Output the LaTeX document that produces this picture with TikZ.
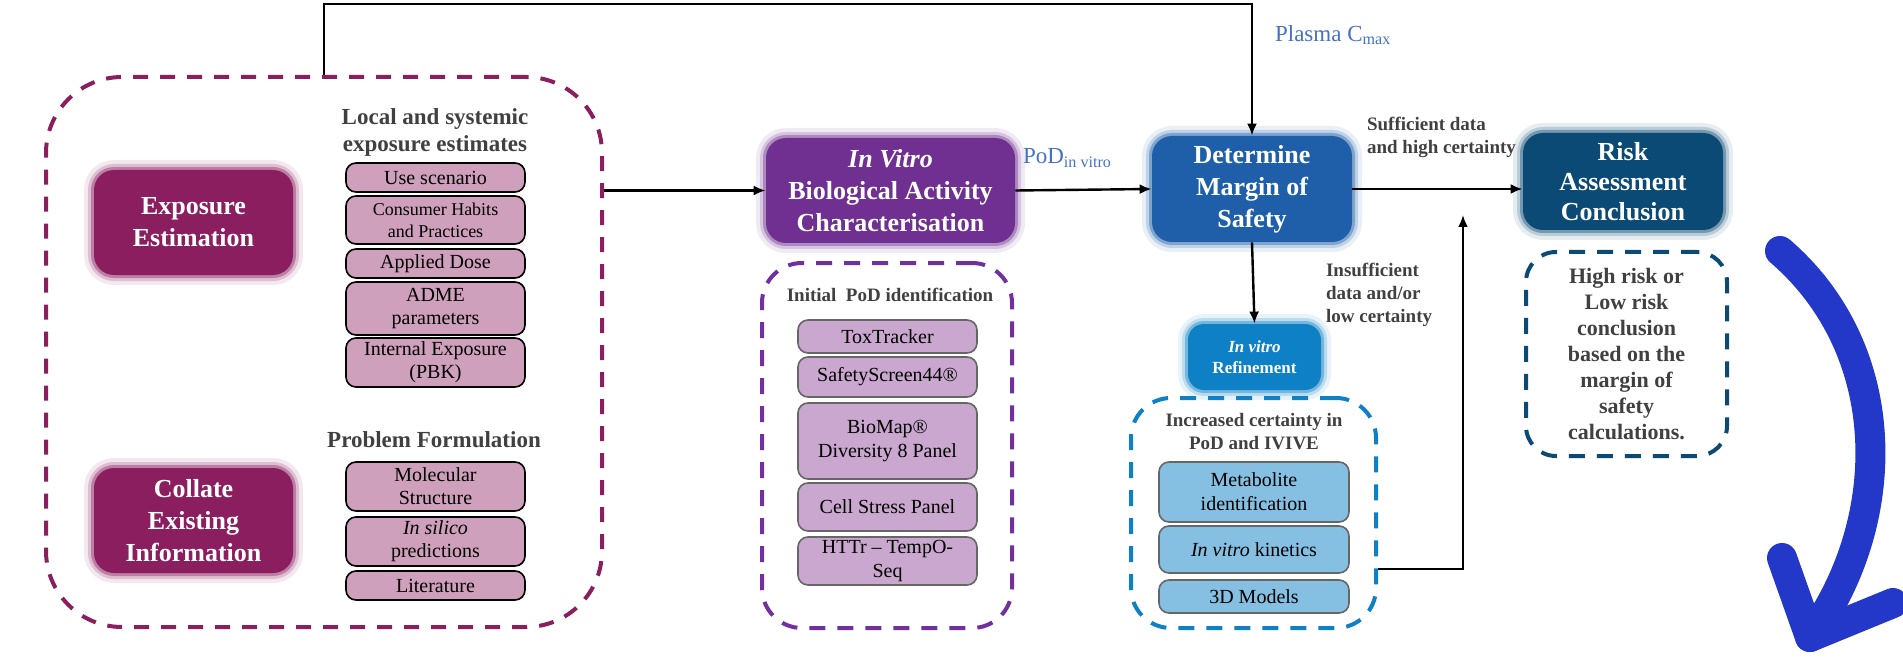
\documentclass[tikz,border=0pt]{standalone}
\usepackage{fontspec}
\setmainfont{Liberation Serif}
\usetikzlibrary{arrows.meta, positioning}

\definecolor{expred}{RGB}{139,30,94}
\definecolor{vitropurple}{RGB}{112,48,145}
\definecolor{podpurple}{RGB}{112,48,160}
\definecolor{mosblue}{RGB}{31,95,170}
\definecolor{refblue}{RGB}{14,128,198}
\definecolor{riskblue}{RGB}{10,74,117}
\definecolor{pinkfill}{RGB}{207,160,188}
\definecolor{lilacfill}{RGB}{201,167,206}
\definecolor{skyfill}{RGB}{133,192,226}
\definecolor{labelblue}{RGB}{68,114,196}
\definecolor{hdrgray}{RGB}{64,64,64}
\definecolor{bigblue}{RGB}{35,55,200}

\begin{document}
\begin{tikzpicture}[x=0.5pt, y=-0.5pt,
    stagebox/.style={rounded corners=10pt, fill=#1, text=white, align=center,
        font=\bfseries\fontsize{13}{16}\selectfont,
        preaction={draw=#1!50, draw opacity=0.2, line width=10pt},
        preaction={draw=#1!70, draw opacity=0.3, line width=6pt},
        preaction={draw=#1, draw opacity=0.4, line width=3pt}},
    groupframe/.style={draw=#1, dash pattern=on 8pt off 6pt, line width=2pt, rounded corners=20pt},
    listbox/.style={draw, rounded corners=5pt, align=center, inner sep=1pt, line width=0.8pt},
    pinkitem/.style={listbox, fill=pinkfill, minimum width=89.5pt, font=\fontsize{10}{11.5}\selectfont},
    lilacitem/.style={listbox, draw=black!60, fill=lilacfill, minimum width=89.5pt, font=\fontsize{10}{12}\selectfont},
    skyitem/.style={listbox, draw=black!60, fill=skyfill, minimum width=95pt, font=\fontsize{10}{12}\selectfont},
    hdr/.style={text=hdrgray, align=center, font=\bfseries\fontsize{9.5}{11.5}\selectfont},
    sidenote/.style={text=hdrgray, align=left, anchor=west, font=\bfseries\fontsize{9.5}{11.5}\selectfont},
    plasma/.style={text=labelblue, anchor=west, font=\fontsize{11.5}{13}\selectfont},
    flow/.style={line width=1.2pt, -{Latex[length=6pt, width=5pt]}}]
    \useasboundingbox (0,0) rectangle (1903,658);

    % Exposure and existing information
    \node[groupframe=expred, rounded corners=38pt, dash pattern=on 7.5pt off 6pt,
          minimum width=278pt, minimum height=275pt] (expframe) at (324,352) {};
    \node[stagebox=expred, minimum width=99.5pt, minimum height=52.5pt] (expest) at (193.5,222.5) {Exposure\\Estimation};
    \node[stagebox=expred, minimum width=99.5pt, minimum height=52.5pt] (collate) at (193.5,520.5) {Collate\\Existing\\Information};

    \node[hdr, font=\bfseries\fontsize{11.5}{13.5}\selectfont] (localhdr) at (435,132) {Local and systemic\\exposure estimates};
    \node[pinkitem, minimum height=14.5pt] (usescn) at (435.5,177.5) {Use scenario};
    \node[pinkitem, minimum height=24pt, font=\fontsize{9}{11}\selectfont] (habits) at (435.5,220) {Consumer Habits\\and Practices};
    \node[pinkitem, minimum height=14.5pt] (dose) at (435.5,263.5) {Applied Dose};
    \node[pinkitem, minimum height=26.5pt] (adme) at (435.5,308.5) {ADME\\parameters};
    \node[pinkitem, minimum height=24.5pt] (pbk) at (435.5,362.5) {Internal Exposure\\(PBK)};

    \node[hdr, font=\bfseries\fontsize{11.5}{13.5}\selectfont] (probhdr) at (434,440) {Problem Formulation};
    \node[pinkitem, minimum height=24.5pt] (molec) at (435.5,486.5) {Molecular\\Structure};
    \node[pinkitem, minimum height=24.5pt] (silico) at (435.5,541.5) {\textit{In silico}\\predictions};
    \node[pinkitem, minimum height=14.5pt] (lit) at (435.5,585.5) {Literature};

    % In vitro activity
    \node[stagebox=vitropurple, minimum width=124.5pt, minimum height=52.5pt] (vitro) at (890.5,190.5) {\textit{In Vitro}\\Biological Activity\\Characterisation};
    \node[groupframe=podpurple, minimum width=125pt, minimum height=182.5pt] (podframe) at (887,445.5) {};
    \node[hdr] (podhdr) at (890,295) {Initial\ \ PoD identification};
    \node[lilacitem, minimum height=16.5pt] (tox) at (887.5,336.5) {ToxTracker};
    \node[lilacitem, minimum height=20pt] (safety) at (887.5,377) {SafetyScreen44®};
    \node[lilacitem, minimum height=38pt] (biomap) at (887.5,441) {BioMap®\\Diversity 8 Panel};
    \node[lilacitem, minimum height=24pt] (stress) at (887.5,507) {Cell Stress Panel};
    \node[lilacitem, minimum height=24pt] (httr) at (887.5,561) {HTTr -- TempO-\\Seq};

    % Margin of safety and refinement
    \node[stagebox=mosblue, minimum width=100pt, minimum height=53pt] (mos) at (1252,189) {Determine\\Margin of\\Safety};
    \node[stagebox=refblue, rounded corners=8pt, minimum width=66.5pt, minimum height=33pt,
          font=\bfseries\fontsize{8.5}{10.5}\selectfont] (refine) at (1254.5,357) {\textit{In vitro}\\Refinement};
    \node[groupframe=refblue, minimum width=122.5pt, minimum height=115pt] (refframe) at (1253.5,513) {};
    \node[hdr] (refhdr) at (1254,432) {Increased certainty in\\PoD and IVIVE};
    \node[skyitem, minimum height=30pt] (metab) at (1254,492) {Metabolite\\identification};
    \node[skyitem, minimum height=23.5pt] (kinet) at (1254,549.5) {\textit{In vitro} kinetics};
    \node[skyitem, minimum height=16.5pt] (models) at (1254,596.5) {3D Models};

    % Conclusion
    \node[stagebox=riskblue, minimum width=100pt, minimum height=48.5pt,
          font=\bfseries\fontsize{13}{15}\selectfont] (risk) at (1623,181.5) {Risk\\Assessment\\Conclusion};
    \node[groupframe=riskblue, rounded corners=15pt, minimum width=100.5pt, minimum height=102pt,
          hdr, font=\bfseries\fontsize{11}{13}\selectfont] (concl) at (1626.5,354)
          {High risk or\\Low risk\\conclusion\\based on the\\margin of\\safety\\calculations.};

    % Labels
    \node[plasma] (plasmalbl) at (1268,35) {Plasma C\textsubscript{max}};
    \node[plasma] (podlbl) at (1016,158) {PoD\textsubscript{in vitro}};
    \node[sidenote] (suff) at (1360,137) {Sufficient data\\and high certainty};
    \node[sidenote] (insuff) at (1319,295) {Insufficient\\data and/or\\low certainty};

    % Connectors
    \coordinate (backtip) at (1463,215);
    \draw[flow] (expframe.north) -- ++(0,-71) -| (mos.north);
    \draw[flow] (expframe.east |- vitro.west) -- (vitro.west);
    \draw[flow] (vitro.east) -- (mos.west);
    \draw[flow] (mos.east) -- (mos.east -| risk.west);
    \draw[flow] (mos.south) -- (refine.north);
    \draw[flow] ([yshift=-28pt]refframe.east) -| (backtip);

    % Big curved arrow
    \draw[bigblue, line width=15pt, line cap=round] (1780,251) .. controls (1895,350) and (1895,520) .. (1810,637);
    \draw[bigblue, line width=15pt, line cap=round, line join=round] (1782,558) -- (1810,637) -- (1893,603);
\end{tikzpicture}
\end{document}
